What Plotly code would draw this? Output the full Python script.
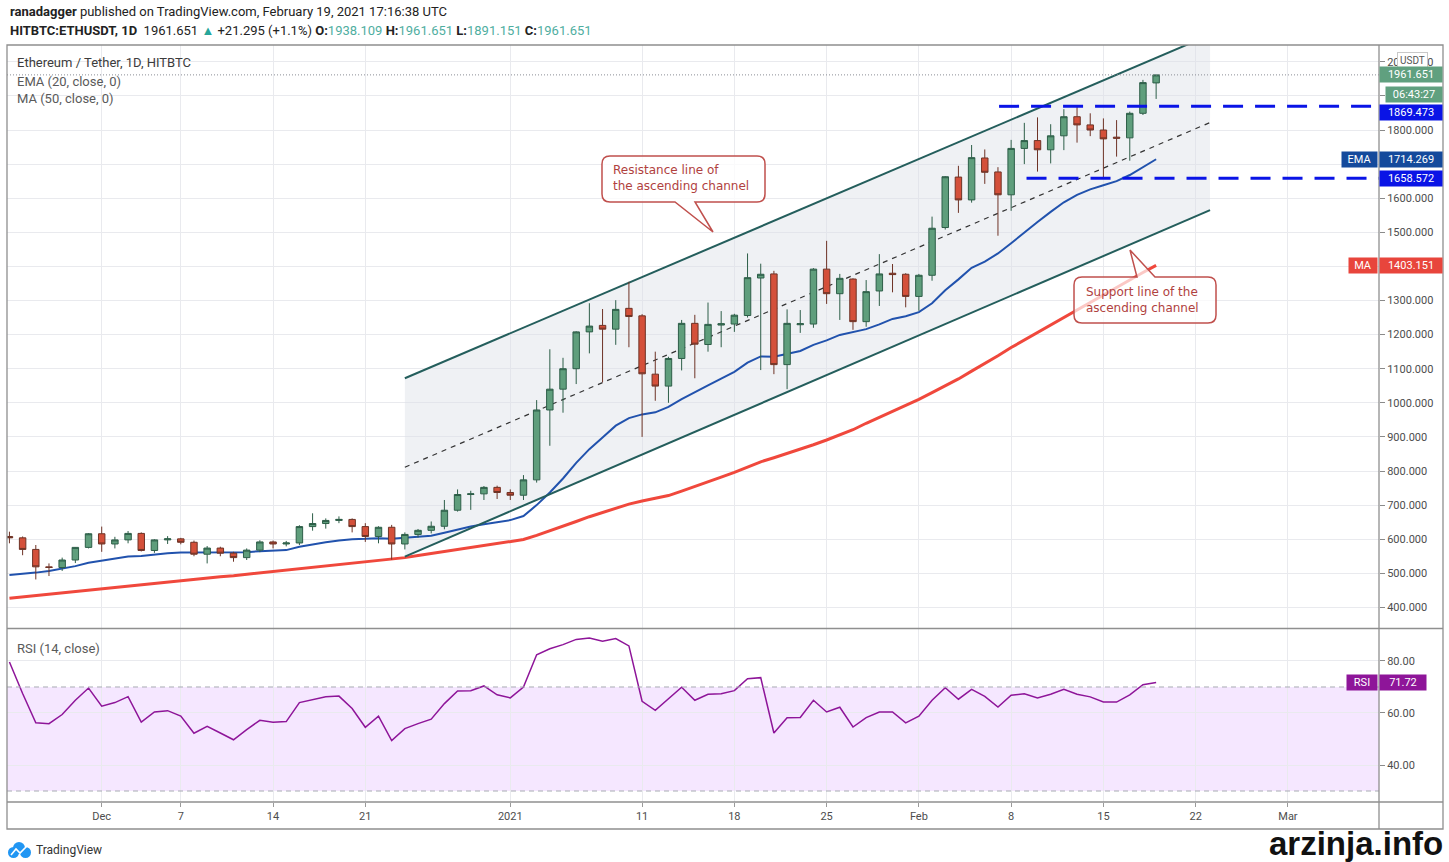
import pandas as pd
import plotly.graph_objects as go

# pixel frame of the TradingView screenshot
PLOT_L, PLOT_R, PLOT_T, PLOT_B = 7, 1379, 45, 802
FRAME_R, FRAME_B = 1443, 829

X_START, X_END = "2020-11-23 19:33", "2021-03-07 21:50"
PRICE_RANGE = [339.6, 2049.3]
RSI_RANGE = [25.77, 92.3]

dates = pd.date_range("2020-11-24", "2021-02-19", freq="D")

opens = [608, 604, 570, 519, 517, 539, 576,
         616, 586, 598, 617, 567, 598, 601, 591, 556, 574, 559, 546, 568, 592, 586,
         589, 637, 646, 655, 658, 637, 608, 635, 586, 614, 626, 638, 685, 731, 733, 752,
         737, 729, 774, 979, 1040, 1100, 1208, 1227, 1216, 1277, 1255, 1084, 1049, 1130,
         1233, 1171, 1228, 1231, 1256, 1366, 1378, 1112, 1229, 1231, 1392, 1320, 1363,
         1238, 1328, 1380, 1377,
         1312, 1374, 1514, 1662, 1595, 1718, 1677, 1610, 1746, 1769, 1742, 1783, 1839,
         1815, 1800, 1779, 1777, 1849, 1938.109]
highs = [622, 608, 583, 529, 546, 577, 618,
         637, 607, 624, 620, 600, 609, 604, 596, 580, 578, 563, 573, 597, 596, 595,
         641, 676, 661, 667, 661, 647, 638, 642, 620, 630, 652, 715, 746, 742, 756, 757,
         746, 788, 1008, 1157, 1132, 1210, 1292, 1275, 1301, 1355, 1260, 1150, 1135, 1243,
         1258, 1294, 1269, 1261, 1438, 1408, 1387, 1274, 1272, 1395, 1475, 1378, 1365,
         1360, 1436, 1407, 1380,
         1378, 1546, 1665, 1695, 1756, 1743, 1691, 1771, 1821, 1837, 1817, 1861, 1870,
         1849, 1834, 1829, 1854, 1947, 1961.651]
lows = [588, 553, 482, 492, 507, 530, 573,
        563, 573, 588, 564, 560, 586, 585, 550, 529, 550, 534, 539, 562, 573, 579,
        583, 625, 631, 647, 620, 592, 588, 540, 570, 605, 617, 629, 681, 686, 715, 718,
        715, 715, 766, 874, 971, 1055, 1145, 1060, 1170, 1163, 900, 1006, 1000, 1095,
        1072, 1150, 1163, 1208, 1250, 1096, 1084, 1040, 1205, 1220, 1290, 1243, 1214,
        1223, 1284, 1324, 1280,
        1270, 1358, 1508, 1557, 1587, 1642, 1490, 1563, 1700, 1678, 1702, 1741, 1763,
        1782, 1658, 1722, 1710, 1844, 1891.151]
closes = [604, 570, 519, 517, 539, 576, 616,
          586, 598, 617, 567, 598, 601, 591, 556, 574, 559, 546, 568, 592, 586, 589,
          637, 646, 655, 658, 637, 608, 635, 586, 614, 626, 638, 685, 731, 733, 752, 737,
          729, 774, 979, 1040, 1100, 1208, 1225, 1216, 1274, 1253, 1085, 1049, 1130, 1233,
          1172, 1230, 1232, 1257, 1367, 1377, 1112, 1233, 1232, 1392, 1320, 1365, 1238,
          1326, 1378, 1376, 1312,
          1374, 1512, 1663, 1595, 1719, 1676, 1610, 1746, 1769, 1742, 1783, 1839, 1815,
          1800, 1774, 1776, 1849, 1939, 1961.651]

ema20 = [495, 498, 502, 507, 513, 521, 531,
         537, 544, 549, 551, 556, 559, 561, 561, 562, 562, 561, 562, 565, 567, 568,
         578, 585, 591, 596, 600, 601, 603, 601, 604, 607, 610, 619, 629, 637, 644, 650,
         656, 668, 700, 737, 778, 824, 864, 898, 933, 955, 966, 972, 988, 1011,
         1030, 1051, 1071, 1091, 1118, 1136, 1135, 1143, 1152, 1170, 1183, 1199, 1207,
         1216, 1230, 1246, 1254,
         1266, 1292, 1330, 1362, 1396, 1414, 1438, 1468, 1500, 1530, 1560, 1588, 1610,
         1626, 1638, 1650, 1668, 1692, 1714.269]
ma50 = [427, 431, 435, 438, 442, 446, 451,
        455, 459, 463, 467, 471, 475, 479, 483, 487, 490, 493, 497, 500, 504, 508,
        512, 516, 520, 524, 528, 532, 536, 540, 546, 552, 558, 564, 570, 576, 582, 587,
        592, 599, 611, 624, 637, 652, 666, 679, 691, 703, 712, 719, 728, 741,
        754, 768, 782, 796, 812, 827, 839, 851, 863, 877, 891, 906, 921,
        940, 957, 974, 992,
        1010, 1030, 1050, 1070, 1093, 1115, 1138, 1162, 1184, 1206, 1229, 1252, 1274,
        1294, 1316, 1340, 1361, 1382, 1403.151]
rsi14 = [79.6, 67.5, 56.2, 55.9, 59.4, 64.9, 69.6,
         62.6, 64.0, 66.3, 56.5, 60.4, 60.9, 58.8, 52.2, 54.9, 52.3, 49.7, 53.6, 57.2,
         56.4, 56.7, 64.0, 65.0, 66.2, 66.5, 61.7, 54.5, 58.8, 49.4, 54.0, 55.9, 57.6,
         63.6, 68.5, 68.6, 70.4, 67.0,
         65.8, 70.0, 82.4, 84.7, 86.3, 88.3, 88.8, 87.6, 88.6, 85.8, 64.5, 61.0, 65.5,
         69.9, 64.9, 67.2, 67.4, 68.6, 73.2, 73.6, 52.3, 58.2, 58.3, 64.9, 60.4, 62.2,
         54.6, 58.2, 60.4, 60.4, 56.2,
         58.8, 64.9, 69.7, 65.3, 69.1, 66.4, 62.3, 66.8, 67.4, 65.8, 67.2, 69.1, 67.2,
         66.2, 64.2, 64.2, 67.0, 70.9, 71.72]

x_ticks = ["2020-12-01", "2020-12-07", "2020-12-14", "2020-12-21", "2021-01-01",
           "2021-01-11", "2021-01-18", "2021-01-25", "2021-02-01", "2021-02-08",
           "2021-02-15", "2021-02-22", "2021-03-01"]
x_tick_text = ["Dec", "7", "14", "21", "2021", "11", "18", "25", "Feb", "8", "15", "22", "Mar"]
price_ticks = list(range(400, 2100, 100))
hidden_price_labels = [1700, 1900]  # covered by the EMA / countdown tags in the screenshot
rsi_ticks = [40, 60, 80]

# drawn ascending channel (start / end of the drawing)
channel_dates = ["2020-12-24", "2021-02-23 02:10"]
channel_upper = [1072, 2079]
channel_lower = [549, 1565]
channel_mid = [811, 1822]

resistance_level, resistance_start = 1869.473, "2021-02-07 02:00"
support_level, support_start = 1658.572, "2021-02-09 04:00"
last_price = 1961.651
ema_last, ma_last, rsi_last = 1714.269, 1403.151, 71.72

UP_FILL, UP_LINE = "#5f9e7c", "#2d5e48"
DN_FILL, DN_LINE = "#d4503a", "#6e3326"
GRID = "#e9eaee"
FRAME = "#8f8f8f"
CALLOUT = "#c0504d"
CALLOUT_TEXT = "#b0413e"


def px_x(px):
    return (px - PLOT_L) / (PLOT_R - PLOT_L)


def px_y(py):
    return 1 - (py - PLOT_T) / (PLOT_B - PLOT_T)


def callout_path(x0, y0, x1, y1, r, edge, ta, tb, tip):
    def p(x, y):
        return f"{px_x(x):.5f},{px_y(y):.5f}"
    if edge == "top":
        s = f"M {p(x0 + r, y0)} L {p(ta, y0)} L {p(*tip)} L {p(tb, y0)} L {p(x1 - r, y0)} "
    else:
        s = f"M {p(x0 + r, y0)} L {p(x1 - r, y0)} "
    s += f"Q {p(x1, y0)} {p(x1, y0 + r)} L {p(x1, y1 - r)} Q {p(x1, y1)} {p(x1 - r, y1)} "
    if edge == "bottom":
        s += f"L {p(tb, y1)} L {p(*tip)} L {p(ta, y1)} "
    s += f"L {p(x0 + r, y1)} Q {p(x0, y1)} {p(x0, y1 - r)} L {p(x0, y0 + r)} Q {p(x0, y0)} {p(x0 + r, y0)} Z"
    return s


fig = go.Figure()

# base layer: channel fill, moving averages, channel lines
fig.add_trace(go.Scatter(
    x=[channel_dates[0], channel_dates[1], channel_dates[1], channel_dates[0], channel_dates[0]],
    y=[channel_upper[0], channel_upper[1], channel_lower[1], channel_lower[0], channel_upper[0]],
    fill="toself", fillcolor="rgba(220,224,231,0.45)", mode="lines", line=dict(width=0),
    hoverinfo="skip"))

fig.add_trace(go.Scatter(x=dates, y=ma50, mode="lines", line=dict(color="#f0483c", width=3),
                         hoverinfo="skip"))
fig.add_trace(go.Scatter(x=dates, y=ema20, mode="lines", line=dict(color="#2152ad", width=2),
                         hoverinfo="skip"))

fig.add_trace(go.Scatter(x=channel_dates, y=channel_mid, mode="lines",
                         line=dict(color="#333333", width=1.2, dash="5px,5px"), hoverinfo="skip"))
for ys in (channel_upper, channel_lower):
    fig.add_trace(go.Scatter(x=channel_dates, y=ys, mode="lines",
                             line=dict(color="#245e5c", width=2), hoverinfo="skip"))

# overlay layer (y3): candles and horizontal levels on top
fig.add_trace(go.Candlestick(
    x=dates, open=opens, high=highs, low=lows, close=closes,
    increasing=dict(fillcolor=UP_FILL, line=dict(color=UP_LINE, width=1)),
    decreasing=dict(fillcolor=DN_FILL, line=dict(color=DN_LINE, width=1)),
    whiskerwidth=0, hoverinfo="skip", xaxis="x", yaxis="y3"))

fig.add_trace(go.Scatter(x=[X_START, X_END], y=[last_price, last_price], mode="lines",
                         line=dict(color="#8a8d96", width=1, dash="1px,2px"), hoverinfo="skip",
                         xaxis="x", yaxis="y3"))
fig.add_trace(go.Scatter(x=[resistance_start, X_END], y=[resistance_level] * 2, mode="lines",
                         line=dict(color="#0a14e6", width=3, dash="20px,12px"), hoverinfo="skip",
                         xaxis="x", yaxis="y3"))
fig.add_trace(go.Scatter(x=[support_start, X_END], y=[support_level] * 2, mode="lines",
                         line=dict(color="#0a14e6", width=3, dash="20px,12px"), hoverinfo="skip",
                         xaxis="x", yaxis="y3"))

# RSI pane
fig.add_trace(go.Scatter(x=dates, y=rsi14, mode="lines", line=dict(color="#8e1599", width=1.5),
                         xaxis="x2", yaxis="y2", hoverinfo="skip"))

shapes = [
    dict(type="rect", xref="paper", yref="y2", x0=0, x1=1, y0=30, y1=70, layer="below",
         fillcolor="rgba(153,21,255,0.1)", line=dict(width=0)),
    dict(type="line", xref="paper", yref="y2", x0=0, x1=1, y0=70, y1=70,
         line=dict(color="#a8abb3", width=1, dash="5px,4px")),
    dict(type="line", xref="paper", yref="y2", x0=0, x1=1, y0=30, y1=30,
         line=dict(color="#a8abb3", width=1, dash="5px,4px")),
    # frame, axis column and pane separators
    dict(type="rect", xref="paper", yref="paper", x0=0, x1=px_x(FRAME_R), y0=px_y(FRAME_B), y1=1,
         line=dict(color=FRAME, width=1.3)),
    dict(type="line", xref="paper", yref="paper", x0=1, x1=1, y0=px_y(FRAME_B), y1=1,
         line=dict(color=FRAME, width=1.3)),
    dict(type="line", xref="paper", yref="paper", x0=0, x1=px_x(FRAME_R), y0=px_y(628.5), y1=px_y(628.5),
         line=dict(color=FRAME, width=1.3)),
    dict(type="line", xref="paper", yref="paper", x0=0, x1=px_x(FRAME_R), y0=0, y1=0,
         line=dict(color=FRAME, width=1.3)),
    # callouts
    dict(type="path", xref="paper", yref="paper", layer="above",
         path=callout_path(602, 156, 765, 202, 8, "bottom", 675, 695, (713, 232)),
         fillcolor="rgba(255,255,255,0.75)", line=dict(color=CALLOUT, width=1.5)),
    dict(type="path", xref="paper", yref="paper", layer="above",
         path=callout_path(1074, 277, 1216, 323, 8, "top", 1137, 1155, (1130, 250)),
         fillcolor="rgba(255,255,255,0.7)", line=dict(color=CALLOUT, width=1.5)),
    # TradingView logo
    dict(type="circle", xref="paper", yref="paper", x0=px_x(8), x1=px_x(19), y0=px_y(858), y1=px_y(847),
         fillcolor="#2196f3", line=dict(width=0)),
    dict(type="circle", xref="paper", yref="paper", x0=px_x(13), x1=px_x(25), y0=px_y(854), y1=px_y(842),
         fillcolor="#2196f3", line=dict(width=0)),
    dict(type="circle", xref="paper", yref="paper", x0=px_x(20), x1=px_x(31), y0=px_y(858), y1=px_y(847),
         fillcolor="#2196f3", line=dict(width=0)),
    dict(type="path", xref="paper", yref="paper",
         path=f"M {px_x(11)},{px_y(855)} L {px_x(16)},{px_y(849)} L {px_x(20)},{px_y(853)} L {px_x(27)},{px_y(846)}",
         line=dict(color="white", width=1.6)),
]

TEXT_FONT = "Roboto, sans-serif"
teal = "#4fae9f"
annotations = [
    dict(xref="paper", yref="paper", x=px_x(8), y=px_y(12), xanchor="left", yanchor="middle",
         showarrow=False, font=dict(family=TEXT_FONT, size=13, color="#222222"),
         text="<b>ranadagger</b> published on TradingView.com, February 19, 2021 17:16:38 UTC"),
    dict(xref="paper", yref="paper", x=px_x(8), y=px_y(30), xanchor="left", yanchor="middle",
         showarrow=False, font=dict(family=TEXT_FONT, size=13, color="#222222"),
         text=(f"<b>HITBTC:ETHUSDT, 1D</b>  1961.651 <span style='color:#26a69a'>▲</span> +21.295 (+1.1%) "
               f"<b>O:</b><span style='color:{teal}'>1938.109</span> <b>H:</b><span style='color:{teal}'>1961.651</span> "
               f"<b>L:</b><span style='color:{teal}'>1891.151</span> <b>C:</b><span style='color:{teal}'>1961.651</span>")),
    dict(xref="paper", yref="paper", x=px_x(15), y=px_y(62), xanchor="left", yanchor="middle",
         showarrow=False, font=dict(family=TEXT_FONT, size=13, color="#3c3c3c"),
         text="Ethereum / Tether, 1D, HITBTC"),
    dict(xref="paper", yref="paper", x=px_x(15), y=px_y(81), xanchor="left", yanchor="middle",
         showarrow=False, font=dict(family=TEXT_FONT, size=13, color="#5a5a5a"), text="EMA (20, close, 0)"),
    dict(xref="paper", yref="paper", x=px_x(15), y=px_y(98), xanchor="left", yanchor="middle",
         showarrow=False, font=dict(family=TEXT_FONT, size=13, color="#5a5a5a"), text="MA (50, close, 0)"),
    dict(xref="paper", yref="paper", x=px_x(15), y=px_y(648), xanchor="left", yanchor="middle",
         showarrow=False, font=dict(family=TEXT_FONT, size=13, color="#5a5a5a"), text="RSI (14, close)"),
    # callout texts
    dict(xref="paper", yref="paper", x=px_x(611), y=px_y(178), xanchor="left", yanchor="middle",
         align="left", showarrow=False, font=dict(family="DejaVu Sans, sans-serif", size=12, color=CALLOUT_TEXT),
         text="Resistance line of<br>the ascending channel"),
    dict(xref="paper", yref="paper", x=px_x(1084), y=px_y(300), xanchor="left", yanchor="middle",
         align="left", showarrow=False, font=dict(family="DejaVu Sans, sans-serif", size=12, color=CALLOUT_TEXT),
         text="Support line of the<br>ascending channel"),
    # axis unit tag
    dict(xref="paper", yref="paper", x=px_x(1412), y=px_y(61), xanchor="center", yanchor="middle",
         showarrow=False, text="USDT", font=dict(family=TEXT_FONT, size=10, color="#555555"),
         bgcolor="white", bordercolor="#c8c8c8", borderwidth=1, borderpad=2),
    # footer
    dict(xref="paper", yref="paper", x=px_x(34), y=px_y(850), xanchor="left", yanchor="middle",
         showarrow=False, text="TradingView", font=dict(family=TEXT_FONT, size=12, color="#333333")),
    dict(xref="paper", yref="paper", x=px_x(1445), y=px_y(843), xanchor="right", yanchor="middle",
         showarrow=False, text="<b>arzinja.info</b>",
         font=dict(family="Liberation Sans, Arial, sans-serif", size=33, color="#111111")),
]


def axis_tag(y, text, color, yref="y", left=PLOT_R, width=60):
    return dict(xref="paper", yref=yref, x=px_x(left), y=y, xanchor="left", yanchor="middle",
                showarrow=False, text=text, bgcolor=color, width=width, height=13, borderpad=1,
                font=dict(family=TEXT_FONT, size=11, color="white"))


def name_tag(y, text, color, left_px, yref="y"):
    return dict(xref="paper", yref=yref, x=px_x(PLOT_R - 1), y=y, xanchor="right", yanchor="middle",
                showarrow=False, text=text, bgcolor=color, width=PLOT_R - 3 - left_px, height=13,
                borderpad=1, font=dict(family=TEXT_FONT, size=11, color="white"))


annotations += [
    axis_tag(last_price, f"{last_price:.3f}", "#60a07f"),
    axis_tag(1905.6, "06:43:27", "#60a07f", left=1385, width=54),
    axis_tag(1852.8, f"{resistance_level:.3f}", "#0a14e6"),
    axis_tag(ema_last, f"{ema_last:.3f}", "#144a9c"),
    name_tag(ema_last, "EMA", "#144a9c", 1343),
    axis_tag(support_level, f"{support_level:.3f}", "#0a14e6"),
    axis_tag(ma_last, f"{ma_last:.3f}", "#e8453c"),
    name_tag(ma_last, "MA", "#e8453c", 1350),
    axis_tag(rsi_last, f"{rsi_last:.2f}", "#8e1599", yref="y2", width=44),
    name_tag(rsi_last, "RSI", "#8e1599", 1348, yref="y2"),
]

tick_font = dict(family=TEXT_FONT, size=11, color="#4d4d4d")
price_labels = ["" if v in hidden_price_labels else f"{v}.000" for v in price_ticks]
fig.update_layout(
    width=1449, height=862,
    margin=dict(l=PLOT_L, r=1449 - PLOT_R, t=PLOT_T, b=862 - PLOT_B),
    paper_bgcolor="white", plot_bgcolor="white", showlegend=False,
    font=dict(family=TEXT_FONT, size=11, color="#4d4d4d"),
    xaxis=dict(domain=[0, 1], anchor="y", type="date", range=[X_START, X_END],
               tickvals=x_ticks, showticklabels=False, showgrid=True, gridcolor=GRID,
               zeroline=False, showline=False, rangeslider=dict(visible=False)),
    xaxis2=dict(domain=[0, 1], anchor="y2", type="date", range=[X_START, X_END], matches="x",
                tickvals=x_ticks, ticktext=x_tick_text, ticks="outside", ticklen=4, tickcolor="#9a9a9a",
                showgrid=True, gridcolor=GRID, zeroline=False, showline=False, tickfont=tick_font),
    yaxis=dict(domain=[px_y(628), 1], anchor="x", side="right", range=PRICE_RANGE,
               tickvals=price_ticks, ticktext=price_labels,
               ticks="outside", ticklen=5, tickcolor="#8a8a8a", showgrid=True, gridcolor=GRID,
               zeroline=False, showline=False, tickfont=tick_font),
    yaxis3=dict(overlaying="y", anchor="x", side="right", range=PRICE_RANGE, visible=False,
                showgrid=False, zeroline=False),
    yaxis2=dict(domain=[0, px_y(629)], anchor="x2", side="right", range=RSI_RANGE,
                tickvals=rsi_ticks, ticktext=[f"{v}.00" for v in rsi_ticks],
                ticks="outside", ticklen=5, tickcolor="#8a8a8a", showgrid=True, gridcolor=GRID,
                zeroline=False, showline=False, tickfont=tick_font),
    shapes=shapes,
    annotations=annotations,
)

fig.write_html("out.html", config={"displayModeBar": False},
               post_script="document.body.style.margin='0px';")
